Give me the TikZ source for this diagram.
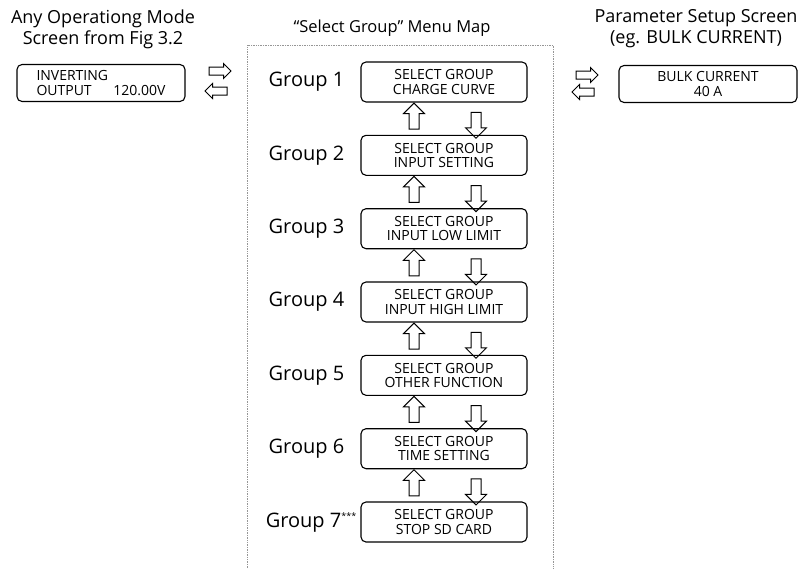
\documentclass[tikz,border=0pt]{standalone}
\usepackage{fontspec}
\setmainfont{Open Sans}
\usepackage{xcolor}
\usetikzlibrary{positioning,shapes.arrows,calc}
\definecolor{framegray}{RGB}{150,150,150}

\tikzset{
  screenbox/.style={draw, line width=1.1pt, rounded corners=5pt, minimum height=37pt, inner sep=0pt, font=\fontsize{14}{14.5}\selectfont},
  menubox/.style={screenbox, minimum width=166pt, minimum height=40pt, align=center},
  grouplabel/.style={inner sep=0pt, font=\fontsize{20}{20}\selectfont},
  headtext/.style={align=center, inner sep=0pt, font=\fontsize{18}{21}\selectfont},
  vblock/.style={single arrow, draw, line width=1pt, inner sep=4.5pt, single arrow head extend=5.5pt, minimum height=26pt},
  hblock/.style={single arrow, draw, line width=1pt, inner sep=3.5pt, single arrow head extend=3.5pt, minimum height=22pt},
  uparr/.style={vblock, shape border rotate=90},
  downarr/.style={vblock, shape border rotate=270},
  rightarr/.style={hblock, shape border rotate=0},
  leftarr/.style={hblock, shape border rotate=180}
}

\begin{document}
\begin{tikzpicture}[x=1pt, y=-1pt]
\useasboundingbox (0,0) rectangle (805,568);

% ==========================================
% Headings
% ==========================================
\node[headtext] (headleft) at (103,29) {Any Operationg Mode\\Screen from Fig 3.2};
\node[headtext, font=\fontsize{16.5}{21}\selectfont] (headmid) at (392,28) {``Select Group'' Menu Map};
\node[headtext] (headright) at (696,29) {Parameter Setup Screen\\(eg. BULK CURRENT)};

% Dotted frame round the menu map (open at the bottom)
\draw[framegray, densely dotted, line width=0.7pt] (247,568) |- (553,45) -- (553,568);

% ==========================================
% LEFT: operating mode screen
% ==========================================
\node[screenbox, minimum width=168pt, text width=129pt, align=left] (opscreen) at (101,83)
  {INVERTING\\\makebox[129pt][l]{OUTPUT\hfill120.00V}};
\node[rightarr] (opin) at (218,71) {};
\node[leftarr] (opout) at (218,91) {};

% ==========================================
% MIDDLE: group menu boxes
% ==========================================
\node[menubox] (g1) at (444,82) {SELECT GROUP\\CHARGE CURVE};
\node[menubox] (g2) at (444,155.3) {SELECT GROUP\\INPUT SETTING};
\node[menubox] (g3) at (444,228.7) {SELECT GROUP\\INPUT LOW LIMIT};
\node[menubox] (g4) at (444,302) {SELECT GROUP\\INPUT HIGH LIMIT};
\node[menubox] (g5) at (444,375.3) {SELECT GROUP\\OTHER FUNCTION};
\node[menubox] (g6) at (444,448.7) {SELECT GROUP\\TIME SETTING};
\node[menubox] (g7) at (444,522) {SELECT GROUP\\STOP SD CARD};

% Group names
\node[grouplabel, left=16pt of g1] (l1) {Group 1};
\node[grouplabel, left=16pt of g2] (l2) {Group 2};
\node[grouplabel, left=16pt of g3] (l3) {Group 3};
\node[grouplabel, left=16pt of g4] (l4) {Group 4};
\node[grouplabel, left=16pt of g5] (l5) {Group 5};
\node[grouplabel, left=16pt of g6] (l6) {Group 6};
\node[grouplabel, anchor=east] (l7) at ($(g7.west)+(-4,0)$)
  {Group 7\raisebox{8pt}{\fontsize{9}{9}\selectfont ***}};

% Up / down arrows between the groups
\node[uparr] (u12) at ($(g1.south)+(-30,16)$) {};
\node[downarr] (d12) at ($(g2.north)+(32,-12)$) {};
\node[uparr] (u23) at ($(g2.south)+(-30,16)$) {};
\node[downarr] (d23) at ($(g3.north)+(32,-12)$) {};
\node[uparr] (u34) at ($(g3.south)+(-30,16)$) {};
\node[downarr] (d34) at ($(g4.north)+(32,-12)$) {};
\node[uparr] (u45) at ($(g4.south)+(-30,16)$) {};
\node[downarr] (d45) at ($(g5.north)+(32,-12)$) {};
\node[uparr] (u56) at ($(g5.south)+(-30,16)$) {};
\node[downarr] (d56) at ($(g6.north)+(32,-12)$) {};
\node[uparr] (u67) at ($(g6.south)+(-30,16)$) {};
\node[downarr] (d67) at ($(g7.north)+(32,-12)$) {};

% ==========================================
% RIGHT: parameter setup screen
% ==========================================
\node[rightarr] (parin) at (585,75) {};
\node[leftarr] (parout) at (585,92) {};
\node[screenbox, minimum width=178pt, align=center] (parscreen) at (708,84)
  {BULK CURRENT\\40 A};

\end{tikzpicture}
\end{document}
